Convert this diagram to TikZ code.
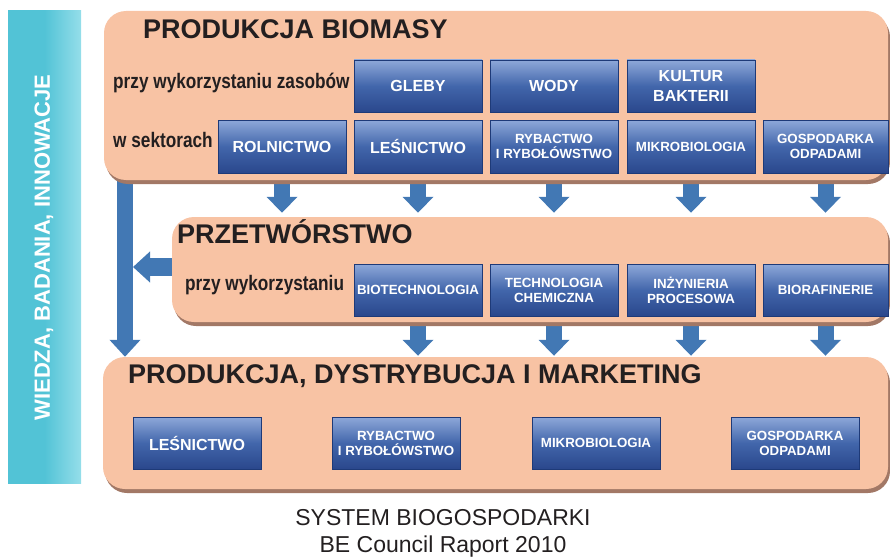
\documentclass[tikz,border=0pt]{standalone}
\usepackage{fontspec}
\setmainfont{Liberation Sans}
\newfontfamily\narrowfont{Liberation Sans}[FakeStretch=0.82]
\usetikzlibrary{arrows.meta,calc}
\pgfdeclarelayer{background}
\pgfsetlayers{background,main}
\definecolor{peach}{HTML}{F8C3A4}
\definecolor{peachshadow}{HTML}{A27866}
\definecolor{cyanbar}{HTML}{52C3D6}
\definecolor{cyanlight}{HTML}{95DEEA}
\definecolor{btop}{HTML}{8EA8D9}
\definecolor{bmid}{HTML}{4266AB}
\definecolor{bbot}{HTML}{2A478C}
\definecolor{bborder}{HTML}{1E3A78}
\definecolor{arrowblue}{HTML}{4278B4}
\definecolor{ink}{HTML}{231F20}
\begin{document}
\begin{tikzpicture}[x=1pt,y=-1pt,
  panel/.style={rounded corners=22pt, fill=peach, draw=none, inner sep=0pt},
  shadowpanel/.style={rounded corners=22pt, fill=peachshadow, draw=none, inner sep=0pt},
  bluebox/.style={draw=bborder, line width=0.6pt, top color=btop, bottom color=bbot, middle color=bmid, text=white, inner sep=0pt, minimum width=128pt, minimum height=52pt, align=center, font=\bfseries\fontsize{13.3}{15}\selectfont},
  bigword/.style={font=\bfseries\fontsize{16}{20}\selectfont},
  title/.style={anchor=base west, inner sep=0pt, text=ink, font=\bfseries\fontsize{27}{30}\selectfont},
  lbl/.style={anchor=base west, inner sep=0pt, text=ink, font=\narrowfont\bfseries\fontsize{21}{24}\selectfont},
  captxt/.style={anchor=base, inner sep=0pt, text=ink, font=\fontsize{23}{26}\selectfont},
  flow/.style={draw=arrowblue, line width=16pt, -{Triangle[width=30pt,length=16pt]}},
]
\useasboundingbox (0,0) rectangle (890,559);

% left bar
\node[draw=none, inner sep=0pt, minimum width=73pt, minimum height=472pt, left color=cyanbar, right color=cyanlight, middle color=cyanbar] (bar) at (44.5,247) {};
\node[rotate=90, inner sep=0pt, text=white, font=\bfseries\fontsize{22}{24}\selectfont] (wtext) at (44,247.5) {WIEDZA, BADANIA, INNOWACJE};

% panels
\node[shadowpanel, minimum width=784pt, minimum height=169pt] at (498,99.5) {};
\node[panel, minimum width=784pt, minimum height=169pt] (top) at (496,95.5) {};
\node[shadowpanel, minimum width=716pt, minimum height=105pt] at (532,273.5) {};
\node[panel, minimum width=716pt, minimum height=105pt] (mid) at (530,269.5) {};
\node[shadowpanel, minimum width=785pt, minimum height=132pt] at (497.5,427) {};
\node[panel, minimum width=785pt, minimum height=132pt] (bot) at (495.5,423) {};

% titles and labels
\node[title] (t1) at (143,39) {PRODUKCJA BIOMASY};
\node[lbl] (l1) at (113,89) {przy wykorzystaniu zasobów};
\node[lbl] (l2) at (113,147) {w sektorach};
\node[title] (t2) at (177,243) {PRZETWÓRSTWO};
\node[lbl] (l3) at (185,290) {przy wykorzystaniu};
\node[title] (t3) at (128,383) {PRODUKCJA, DYSTRYBUCJA I MARKETING};

% top panel boxes
\node[bluebox, bigword] (gleby) at (418,86) {GLEBY};
\node[bluebox, bigword] (wody) at (554,86) {WODY};
\node[bluebox, bigword] (kult) at (691,86) {KULTUR\\BAKTERII};
\node[bluebox, bigword, minimum height=53pt] (rol) at (282,146.5) {ROLNICTWO};
\node[bluebox, bigword, minimum height=53pt] (les) at (418,146.5) {LEŚNICTWO};
\node[bluebox, minimum height=53pt] (ryb) at (554,146.5) {RYBACTWO\\I RYBOŁÓWSTWO};
\node[bluebox, minimum height=53pt] (mik) at (691,146.5) {MIKROBIOLOGIA};
\node[bluebox, minimum height=53pt, minimum width=125pt] (gos) at (825.5,146.5) {GOSPODARKA\\ODPADAMI};

% middle panel boxes
\node[bluebox] (bio) at (418,290) {BIOTECHNOLOGIA};
\node[bluebox] (tech) at (554,290) {TECHNOLOGIA\\CHEMICZNA};
\node[bluebox] (inz) at (691,290) {INŻYNIERIA\\PROCESOWA};
\node[bluebox, minimum width=125pt] (bioraf) at (825.5,290) {BIORAFINERIE};

% bottom panel boxes
\node[bluebox, bigword] (les2) at (197,443) {LEŚNICTWO};
\node[bluebox] (ryb2) at (396,443) {RYBACTWO\\I RYBOŁÓWSTWO};
\node[bluebox] (mik2) at (596,443) {MIKROBIOLOGIA};
\node[bluebox] (gos2) at (795,443) {GOSPODARKA\\ODPADAMI};

% caption
\node[captxt] (cap1) at (443,525) {SYSTEM BIOGOSPODARKI};
\node[captxt] (cap2) at (443,552) {BE Council Raport 2010};

% arrows
\coordinate (vx) at (125,0);
\coordinate (hend) at (133,267);
\begin{pgfonlayer}{background}
\foreach \n in {rol,les,ryb,mik,gos}
  \draw[flow] ($(\n.center |- top.south)+(0,-8)$) -- ($(\n.center |- mid.north)+(0,-4)$);
\foreach \n in {bio,tech,inz,bioraf}
  \draw[flow] ($(\n.center |- mid.south)+(0,-8)$) -- ($(\n.center |- bot.north)+(0,-1)$);
\draw[flow, -{Triangle[width=30pt,length=17pt]}] ($(vx |- top.south)+(0,-8)$) -- (vx |- bot.north);
\draw[flow, line width=18pt, -{Triangle[width=30pt,length=17pt]}] ($(mid.west |- hend)+(8,0)$) -- (hend);
\end{pgfonlayer}
\end{tikzpicture}
\end{document}
